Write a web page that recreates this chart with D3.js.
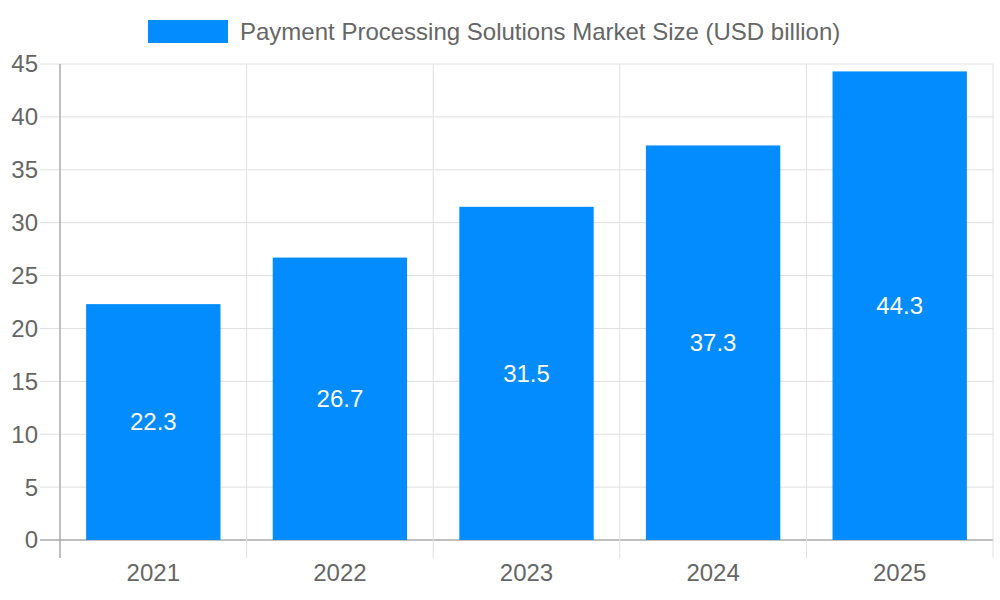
<!DOCTYPE html>
<html>
<head>
<meta charset="utf-8">
<script src="https://cdn.jsdelivr.net/npm/d3@7"></script>
<style>
  body { margin: 0; background: #fff; }
  text { font-family: "Liberation Sans", Arial, sans-serif; }
</style>
</head>
<body>
<div id="chart"></div>
<script>
const years = ['2021', '2022', '2023', '2024', '2025']
const marketSize = [22.3, 26.7, 31.5, 37.3, 44.3]
const yTicks = [0, 5, 10, 15, 20, 25, 30, 35, 40, 45]
const seriesName = 'Payment Processing Solutions Market Size (USD billion)'

let width = 1000
let height = 600
let plotLeft = 60, plotRight = 993, plotTop = 64, plotBottom = 540
let barColor = '#028cfe'
let textColor = '#666'
let fontSize = 24

let svg = d3.select('#chart').append('svg')
  .attr('width', width)
  .attr('height', height)

let xScale = d3.scaleBand(years, [plotLeft, plotRight]).paddingInner(0).paddingOuter(0)
let yScale = d3.scaleLinear([0, 45], [plotBottom, plotTop])

// grid lines
let g = svg.append('g')
g.selectAll('.hgrid').data(yTicks).enter().append('line')
  .attr('x1', plotLeft - 20).attr('x2', plotRight)
  .attr('y1', d => yScale(d)).attr('y2', d => yScale(d))
  .attr('stroke', d => d === 0 ? '#aaa' : '#e0e0e0')
  .attr('stroke-width', d => d === 0 ? 1.5 : 1)

let bounds = years.map(d => xScale(d)).concat([plotRight])
g.selectAll('.vgrid').data(bounds).enter().append('line')
  .attr('x1', d => d).attr('x2', d => d)
  .attr('y1', plotTop).attr('y2', plotBottom + 18)
  .attr('stroke', (d, i) => i === 0 ? '#aaa' : '#e0e0e0')
  .attr('stroke-width', (d, i) => i === 0 ? 1.5 : 1)

// y labels
g.selectAll('.ylab').data(yTicks).enter().append('text')
  .attr('x', 38)
  .attr('y', d => yScale(d))
  .attr('dy', '0.35em')
  .attr('text-anchor', 'end')
  .attr('fill', textColor)
  .attr('font-size', fontSize)
  .text(d => d)

// x labels
g.selectAll('.xlab').data(years).enter().append('text')
  .attr('x', d => xScale(d) + xScale.bandwidth() / 2)
  .attr('y', 573)
  .attr('dy', '0.35em')
  .attr('text-anchor', 'middle')
  .attr('fill', textColor)
  .attr('font-size', fontSize)
  .text(d => d)

// bars
let bw = xScale.bandwidth() * 0.72
g.selectAll('rect.bar').data(marketSize).enter().append('rect')
  .attr('class', 'bar')
  .attr('x', (d, i) => xScale(years[i]) + (xScale.bandwidth() - bw) / 2)
  .attr('y', d => yScale(d))
  .attr('width', bw)
  .attr('height', d => yScale(0) - yScale(d))
  .attr('fill', barColor)

// value labels
g.selectAll('.vlab').data(marketSize).enter().append('text')
  .attr('x', (d, i) => xScale(years[i]) + xScale.bandwidth() / 2)
  .attr('y', d => (yScale(d) + yScale(0)) / 2)
  .attr('dy', '0.35em')
  .attr('text-anchor', 'middle')
  .attr('fill', '#fff')
  .attr('font-size', fontSize)
  .text(d => d)

// legend
svg.append('rect')
  .attr('x', 148).attr('y', 20).attr('width', 80).attr('height', 23)
  .attr('fill', barColor)
svg.append('text')
  .attr('x', 240).attr('y', 32)
  .attr('dy', '0.35em')
  .attr('fill', textColor)
  .attr('font-size', fontSize)
  .text(seriesName)
</script>
</body>
</html>
